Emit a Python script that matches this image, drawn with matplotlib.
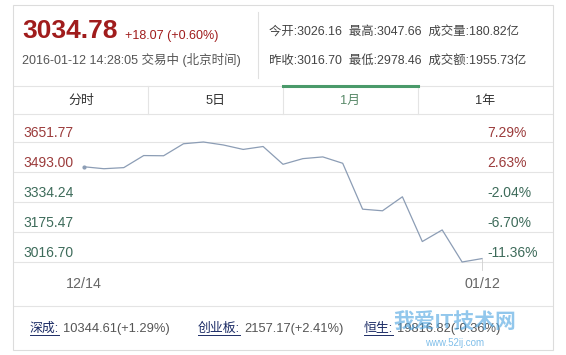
"""
Stock quote widget - SSE composite, 1 month view
"""

import numpy as np
import matplotlib.pyplot as plt
from matplotlib.lines import Line2D
from matplotlib.patches import Rectangle

plt.rcParams['font.family'] = ['Liberation Sans', 'Noto Sans CJK SC']

# figure size in pixels
W, H = 566, 355

##### data #####
dates = ['12/14', '12/15', '12/16', '12/17', '12/18', '12/21', '12/22',
         '12/23', '12/24', '12/25', '12/28', '12/29', '12/30', '12/31',
         '01/04', '01/05', '01/06', '01/07', '01/08', '01/11', '01/12']
close = [3520.67, 3510.35, 3516.19, 3580.00, 3578.96, 3642.47, 3651.77,
         3636.09, 3612.49, 3627.91, 3533.78, 3563.74, 3572.88, 3539.18,
         3296.26, 3287.71, 3361.84, 3125.00, 3186.41, 3016.70, 3034.78]
y_ticks = [3651.77, 3493.00, 3334.24, 3175.47, 3016.70]
pct_ticks = ['7.29%', '2.63%', '-2.04%', '-6.70%', '-11.36%']
tab_names = ['分时', '5日', '1月', '1年']
price = '3034.78'
change = '+18.07 (+0.60%)'
stamp = '2016-01-12 14:28:05 交易中 (北京时间)'
info_row1 = '今开:3026.16  最高:3047.66  成交量:180.82亿'
info_row2 = '昨收:3016.70  最低:2978.46  成交额:1955.73亿'
idx_names = ['深成:', '创业板:', '恒生:']
idx_values = ['10344.61(+1.29%)', '2157.17(+2.41%)', '19816.82(-0.36%)']

# colours
red = '#a01c1c'
red_lab = '#9b3b3b'
green_lab = '#3d6b5a'
gray = '#555555'
grid_c = '#e4e4e4'
line_c = '#8c9db5'


# helpers: pixel -> figure fraction
def fx(x):
    return x / W


def fy(y):
    return 1 - y / H


def hline(fig, y, x0, x1, color=grid_c, lw=0.8):
    fig.add_artist(Line2D([fx(x0), fx(x1)], [fy(y), fy(y)], color=color, lw=lw))


def vline(fig, x, y0, y1, color=grid_c, lw=0.8):
    fig.add_artist(Line2D([fx(x), fx(x)], [fy(y0), fy(y1)], color=color, lw=lw))


fig = plt.figure(figsize=(W / 100, H / 100), dpi=100)
fig.patch.set_facecolor('white')

# card outline (behind everything)
fig.add_artist(Rectangle((fx(13), fy(350)), (553 - 13) / W, (350 - 5) / H,
                         facecolor='white', edgecolor='#dcdcdc', lw=0.8, zorder=-5))

##### header #####
fig.text(fx(22), fy(38), price, fontsize=19, fontweight='bold', color=red, va='baseline')
fig.text(fx(125), fy(39), change, fontsize=9.0, color=red, va='baseline')
fig.text(fx(22), fy(64), stamp, fontsize=9, color=gray, va='baseline')
vline(fig, 258, 12, 78, color='#e0e0e0')
fig.text(fx(269), fy(36), info_row1, fontsize=8.9, color='#444444', va='baseline')
fig.text(fx(269), fy(64), info_row2, fontsize=8.9, color='#444444', va='baseline')

##### tabs #####
tab_edges = [14, 148, 283, 418, 552]
hline(fig, 86, 14, 552)
hline(fig, 114, 14, 552)
for xe in tab_edges[1:-1]:
    vline(fig, xe, 86, 114)
for i, name in enumerate(tab_names):
    xc = (tab_edges[i] + tab_edges[i + 1]) / 2
    col = '#5a8a6a' if name == '1月' else '#333333'
    fig.text(fx(xc), fy(101), name, fontsize=9.3, color=col, ha='center', va='center')
fig.add_artist(Line2D([fx(283), fx(418)], [fy(86), fy(86)], color='#4a9a6a', lw=2.2))

##### chart #####
x = np.arange(len(close))
step = (482 - 84) / (len(close) - 1)
ax = fig.add_axes([fx(14), fy(262), (552 - 14) / W, 120 / H])
ax.set_zorder(2)
ax.patch.set_alpha(0)
ax.set_xlim(-(84 - 14) / step, (len(close) - 1) + (552 - 482) / step)
ax.set_ylim(y_ticks[-1], y_ticks[0])
ax.axis('off')

for i, (v, p) in enumerate(zip(y_ticks, pct_ticks)):
    ax.axhline(v, color=grid_c, lw=0.8, clip_on=False)
    col = red_lab if i < 2 else green_lab
    ax.annotate(f'{v:.2f}', xy=(0, v), xycoords=('axes fraction', 'data'),
                xytext=(9, 5), textcoords='offset pixels', fontsize=10,
                color=col, va='baseline', ha='left')
    ax.annotate(p, xy=(0, v), xycoords=('axes fraction', 'data'),
                xytext=(473, 5), textcoords='offset pixels', fontsize=10,
                color=col, va='baseline', ha='left')

ax.plot(x, close, color=line_c, lw=0.9, clip_on=False)
ax.plot(x[0], close[0], 'o', ms=2, color=line_c, clip_on=False)
# marker of the current point
ax.plot([x[-1], x[-1]], [close[-1], y_ticks[-1] - 8 * 5.29], color='#cfcfcf',
        lw=0.6, clip_on=False)

for i in [0, len(dates) - 1]:
    ax.annotate(dates[i], xy=(x[i], 0), xycoords=('data', 'axes fraction'),
                xytext=(0, -22), textcoords='offset pixels', fontsize=10.3,
                color='#666666', ha='center', va='center')

##### bottom row #####
hline(fig, 306, 14, 552)
name_x = [30, 198, 364]
for nx, nm, val in zip(name_x, idx_names, idx_values):
    t = fig.text(fx(nx), fy(332), nm, fontsize=9.3, color='#1c2c66', va='baseline')
    fig.canvas.draw()
    bb = t.get_window_extent()
    fig.add_artist(Line2D([bb.x0 / W, bb.x1 / W], [fy(335), fy(335)], color='#1c2c66', lw=0.7))
    fig.text(bb.x1 / W + 4 / W, fy(332), val, fontsize=9.3, color=gray, va='baseline')

# watermark
fig.text(fx(455), fy(322), '我爱IT技术网', fontsize=15, fontweight='bold',
         color='#4aa3e0', alpha=0.6, ha='center', va='center')
fig.text(fx(455), fy(343), 'www.52ij.com', fontsize=7, color='#4aa3e0',
         alpha=0.7, ha='center', va='center')

fig.savefig('out.png', dpi=100)
